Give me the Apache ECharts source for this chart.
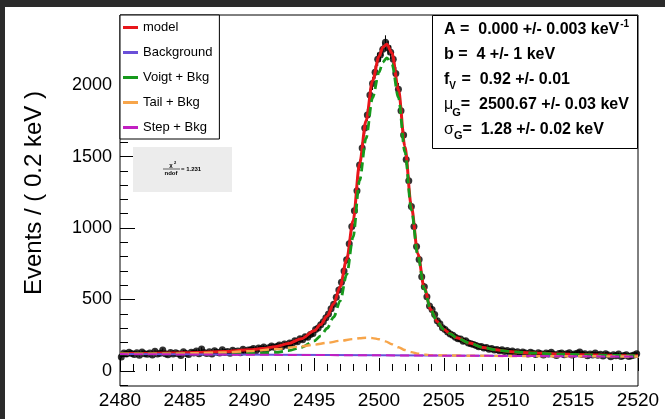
<!DOCTYPE html>
<html>
<head>
<meta charset="utf-8">
<script src="https://cdn.jsdelivr.net/npm/echarts@6/dist/echarts.min.js"></script>
<style>
html,body{margin:0;padding:0;background:#fff}
#c{width:665px;height:419px}
</style>
</head>
<body>
<div id="c"></div>
<script>
// Histogram: 0.2 keV bins from 2480 to 2520 keV
const binLow = 2480;
const binWidth = 0.2;
const counts = [
  98,126,118,131,122,115,128,110,133,121,
  117,125,112,138,119,124,146,120,113,130,
  118,127,121,109,134,122,116,131,125,140,
  121,154,129,123,135,118,142,131,126,148,
  129,137,124,145,133,140,128,152,136,147,
  149,158,142,161,153,168,150,163,174,166,
  171,182,169,188,180,196,190,211,204,226,
  218,240,236,255,262,
  291,300,324,345,372,398,436,466,515,566,
  620,700,778,890,1010,1120,1260,1440,1560,1700,
  1790,1930,2010,2090,2180,2210,2250,2300,2260,2230,
  2180,2080,1970,1820,1650,1480,1330,1150,1010,870,
  780,660,590,520,455,430,395,352,330,302,
  290,272,258,250,236,225,224,208,212,196,
  190,186,178,169,172,160,165,152,158,146,
  150,141,148,137,143,
  131,140,128,135,122,133,126,119,131,124,
  115,128,121,112,126,119,131,117,109,122,
  125,113,120,128,111,118,124,133,116,121,
  107,119,112,125,110,117,104,121,111,99,
  114,106,118,102,109,113,101,107,111,120
];

// Fitted curves (keV, events per bin)
const modelX = [2480,2482,2484,2486,2488,2490,2491,2492,2493,2494,2495,2495.5,2496,2496.5,2497,2497.5,2498,2498.5,2499,2499.5,2500,2500.3,2500.6,2501,2501.5,2502,2502.5,2503,2503.5,2504,2504.5,2505,2505.5,2506,2507,2508,2509,2510,2511,2512,2514,2516,2518,2520];
const modelY = [122,123,125,129,136,148,157,170,192,225,282,325,385,470,590,780,1050,1450,1750,2030,2200,2265,2285,2225,1970,1570,1150,820,580,430,345,292,260,232,195,165,148,137,130,125,118,113,109,106];
const voigtY = [120,120,120,120,121,123,125,130,142,165,210,246,299,377,490,673,937,1331,1628,1910,2088,2161,2190,2147,1913,1532,1127,807,573,427,343,291,260,232,195,165,148,137,130,125,118,113,109,106];

const bkgX = [2480,2520];
const bkgY = [118,101];
const stepY = [118,101];

const tailX = [2480,2482,2484,2486,2488,2490,2492,2494,2495,2496,2497,2498,2498.5,2499,2499.5,2500,2500.5,2501,2501.5,2502,2502.5,2503,2503.5,2504,2505,2507,2510,2515,2520];
const tailY = [120,120,121,125,130,139,153,172,184,197,211,223,229,232,230,222,207,187,166,147,132,121,115,111,109,107,105,103,101];

// Axis ticks
const yMajor = [0,500,1000,1500,2000];
const yMinor = [-100,100,200,300,400,600,700,800,900,1100,1200,1300,1400,1600,1700,1800,1900,2100,2200,2300,2400];

const F = '"Liberation Sans", Arial, Helvetica, sans-serif';
const pairs = (xs, ys) => xs.map((x, i) => [x, ys[i]]);
const points = counts.map((c, i) => [+(binLow + binWidth * (i + 0.5)).toFixed(2), c, Math.sqrt(c)]);

const COL = {
  model: '#e8161b',
  bkg: '#6a4fd8',
  voigt: '#16991c',
  tail: '#f7a54a',
  step: '#c21fc2'
};

// text measuring for the parameter box
const ctx = document.createElement('canvas').getContext('2d');
function tw(text, font) { ctx.font = font; return ctx.measureText(text).width; }

const graphics = [];
// dark canvas edges
graphics.push({type:'rect', left:0, top:0, shape:{width:665, height:7}, style:{fill:'#2b2b2b'}, z:100});
graphics.push({type:'rect', left:0, top:0, shape:{width:5, height:419}, style:{fill:'#2b2b2b'}, z:100});

// y axis title
graphics.push({type:'text', x:34, y:193, rotation:Math.PI/2,
  style:{text:'Events / ( 0.2 keV )', font:'24px ' + F, fill:'#000', align:'center', verticalAlign:'middle'}, z:50});

// parameter box
graphics.push({type:'rect', shape:{x:432.5, y:15.5, width:205, height:133}, style:{fill:'#fff', stroke:'#000', lineWidth:1}, z:40});
const bold = (s) => 'bold ' + s + 'px ' + F;
function addText(x, y, text, font) {
  graphics.push({type:'text', x:x, y:y, style:{text:text, font:font, fill:'#000', align:'left', verticalAlign:'middle'}, z:41});
  return x + tw(text, font);
}
let px = 444;
let end = addText(px, 30, 'A =  0.000 +/- 0.003 keV', bold(16));
addText(end + 1, 24, '-1', bold(10));
addText(px, 55, 'b =  4 +/- 1 keV', bold(16));
end = addText(px, 80, 'f', bold(16));
end = addText(end, 86, 'V', bold(10));
addText(end + 1, 80, ' =  0.92 +/- 0.01', bold(16));
end = addText(px, 105, 'μ', '16px ' + F);
end = addText(end - 1, 113, 'G', bold(11));
addText(end, 105, '=  2500.67 +/- 0.03 keV', bold(16));
end = addText(px, 130, 'σ', '16px ' + F);
end = addText(end, 136, 'G', bold(11));
addText(end, 130, '=  1.28 +/- 0.02 keV', bold(16));

// goodness-of-fit label
graphics.push({type:'rect', shape:{x:133, y:147, width:99, height:45}, style:{fill:'#ececec'}, z:30});
graphics.push({type:'text', x:171, y:165, style:{text:'χ', font:'bold 6px ' + F, fill:'#000', align:'center', verticalAlign:'middle'}, z:31});
graphics.push({type:'text', x:174, y:163, style:{text:'2', font:'bold 4px ' + F, fill:'#000', align:'left', verticalAlign:'middle'}, z:31});
graphics.push({type:'line', shape:{x1:163, y1:169, x2:180, y2:169}, style:{stroke:'#000', lineWidth:0.6}, z:31});
graphics.push({type:'text', x:171, y:173, style:{text:'ndof', font:'bold 6px ' + F, fill:'#000', align:'center', verticalAlign:'middle'}, z:31});
graphics.push({type:'text', x:181, y:169, style:{text:'= 1.231', font:'bold 6px ' + F, fill:'#000', align:'left', verticalAlign:'middle'}, z:31});

const lineSeries = (name, xs, ys, color, width, dashed) => ({
  name: name, type:'line', data: pairs(xs, ys), showSymbol:false, symbol:'none',
  smooth: 0.3, smoothMonotone:'x',
  lineStyle:{color:color, width:width, type: dashed ? [9, 5] : 'solid'},
  itemStyle:{color:color}, z:5
});

const plain = (v) => String(v);

const chart = echarts.init(document.getElementById('c'));
chart.setOption({
  animation:false,
  backgroundColor:'#fff',
  grid:{left:120, right:27, top:15, bottom:33, show:true, borderColor:'#000', borderWidth:1, backgroundColor:'#fff'},
  legend:{
    orient:'vertical', left:120, top:15, icon:'rect', itemWidth:15, itemHeight:3, itemGap:12, itemTextGap:5,
    padding:[6,7,5,3], borderColor:'#000', borderWidth:1, backgroundColor:'#fff', borderRadius:0,
    textStyle:{fontFamily:F, fontSize:13, color:'#000'},
    data:['model','Background','Voigt + Bkg','Tail + Bkg','Step + Bkg'], z:20
  },
  xAxis:{
    type:'value', min:2480, max:2520, interval:5,
    axisLine:{show:false},
    axisTick:{inside:true, length:13, lineStyle:{color:'#000'}},
    minorTick:{show:true, splitNumber:5, length:7, lineStyle:{color:'#000'}},
    splitLine:{show:false}, minorSplitLine:{show:false},
    axisLabel:{fontFamily:F, fontSize:19, color:'#000', margin:5, formatter:plain}
  },
  yAxis:[{
    type:'value', min:-105, max:2490,
    axisLine:{show:false},
    axisTick:{inside:true, length:15, customValues:yMajor, lineStyle:{color:'#000'}},
    axisLabel:{customValues:yMajor, fontFamily:F, fontSize:18, color:'#000', margin:8, formatter:plain},
    splitLine:{show:false}
  },{
    type:'value', min:-105, max:2490, position:'left',
    axisLine:{show:false},
    axisTick:{inside:true, length:8, customValues:yMinor, lineStyle:{color:'#000'}},
    axisLabel:{show:false}, splitLine:{show:false}
  }],
  graphic: graphics,
  series:[
    {type:'custom', data:points, z:2, silent:true,
     renderItem:(params, api) => {
       const x = api.value(0), y = api.value(1), e = api.value(2);
       const a = api.coord([x, y - e]), b = api.coord([x, y + e]);
       return {type:'line', shape:{x1:a[0], y1:a[1], x2:b[0], y2:b[1]}, style:{stroke:'#000', lineWidth:1}};
     }},
    {type:'scatter', data:points, symbol:'circle', symbolSize:7, itemStyle:{color:'#000'}, z:3, silent:true},
    lineSeries('model', modelX, modelY, COL.model, 3, false),
    lineSeries('Background', bkgX, bkgY, COL.bkg, 2, false),
    lineSeries('Voigt + Bkg', modelX, voigtY, COL.voigt, 2.8, true),
    lineSeries('Tail + Bkg', tailX, tailY, COL.tail, 2.4, true),
    lineSeries('Step + Bkg', bkgX, stepY, COL.step, 2, true)
  ]
});
</script>
</body>
</html>
